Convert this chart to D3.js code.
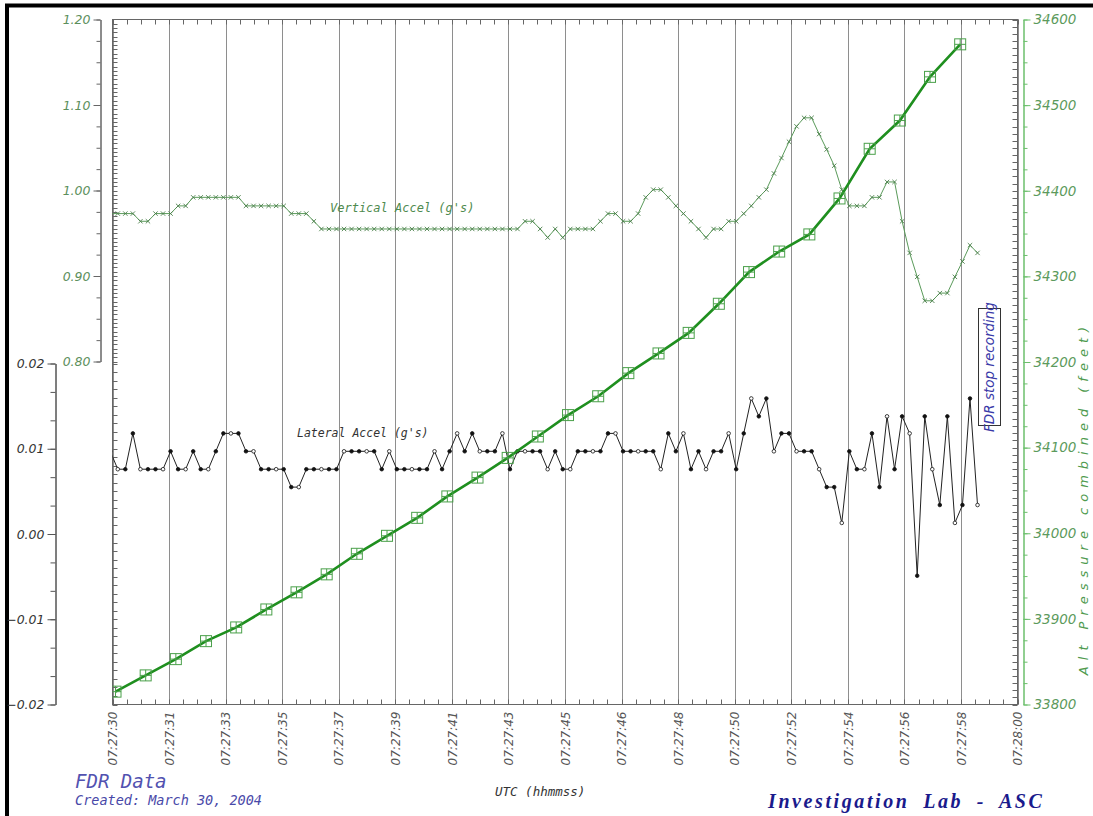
<!DOCTYPE html>
<html><head><meta charset="utf-8">
<script src="https://cdn.jsdelivr.net/npm/d3@7"></script>
<style>
html,body{margin:0;padding:0;background:#fff;}
svg{display:block;}
</style></head><body>
<svg id="chart" width="1093" height="816"></svg>
<script>
// ---------------- DATA ----------------
const timeTickLabels = ["07:27:30","07:27:31","07:27:33","07:27:35","07:27:37","07:27:39","07:27:41","07:27:43","07:27:45","07:27:46","07:27:48","07:27:50","07:27:52","07:27:54","07:27:56","07:27:58","07:28:00"];
const vertTickValues = [0.80, 0.90, 1.00, 1.10, 1.20];
const latTickValues = [-0.02, -0.01, 0.00, 0.01, 0.02];
const altTickValues = [33800, 33900, 34000, 34100, 34200, 34300, 34400, 34500, 34600];

// 4 Hz samples (seconds after 07:27:30)
const sampleStart = -0.075, sampleStep = 0.25;
const lateralAccel = [
 0.0097,
 0.0076,0.0076,0.0118,0.0076,0.0076,0.0076,0.0076,0.0097,0.0076,0.0076,
 0.0097,0.0076,0.0076,0.0097,0.0118,0.0118,0.0118,0.0097,0.0097,0.0076,
 0.0076,0.0076,0.0076,0.0055,0.0055,0.0076,0.0076,0.0076,0.0076,0.0076,
 0.0097,0.0097,0.0097,0.0097,0.0097,0.0076,0.0097,0.0076,0.0076,0.0076,
 0.0076,0.0076,0.0097,0.0076,0.0097,0.0118,0.0097,0.0118,0.0097,0.0097,
 0.0097,
 0.0118,0.0076,0.0097,0.0097,0.0097,0.0097,0.0076,0.0097,0.0076,0.0076,
 0.0097,0.0097,0.0097,0.0097,0.0118,0.0118,0.0097,0.0097,0.0097,0.0097,
 0.0097,0.0076,0.0118,0.0097,0.0118,0.0076,0.0097,0.0076,0.0097,0.0097,
 0.0118,0.0076,0.0118,0.0159,0.0138,0.0159,0.0097,0.0118,0.0118,0.0097,
 0.0097,0.0097,0.0076,0.0055,0.0055,0.0013,0.0097,0.0076,0.0076,0.0118,
 0.0055,0.0138,0.0076,0.0138,0.0118,-0.0049,0.0138,0.0076,0.0034,0.0138,
 0.0013,0.0034,0.0159,0.0034
];
const verticalAccel = [
 0.973,0.973,0.973,0.973,0.964,0.964,0.973,0.973,0.973,0.982,
 0.982,0.992,0.992,0.992,0.992,0.992,0.992,0.992,0.982,0.982,
 0.982,0.982,0.982,0.982,0.973,0.973,0.973,0.964,0.955,0.955,
 0.955,0.955,0.955,0.955,0.955,0.955,0.955,0.955,0.955,0.955,
 0.955,0.955,0.955,0.955,0.955,0.955,0.955,0.955,0.955,0.955,
 0.955,0.955,0.955,0.955,0.955,0.964,0.964,0.955,0.945,0.955,
 0.945,0.955,0.955,0.955,0.955,0.964,0.973,0.973,0.964,0.964,
 0.973,0.992,1.001,1.001,0.992,0.982,0.973,0.964,0.955,0.945,
 0.955,0.955,0.964,0.964,0.973,0.982,0.992,1.001,1.020,1.038,
 1.057,1.075,1.085,1.085,1.066,1.048,1.029,1.001,0.982,0.982,
 0.982,0.992,0.992,1.010,1.010,0.964,0.927,0.899,0.871,0.871,
 0.880,0.880,0.899,0.917,0.936,0.927
];
// 1 Hz altitude samples
const altStart = 0.1, altStep = 1;
const altPressure = [33815,33834,33853,33874,33890,33911,33931,33952,33976,33997,
 34018,34043,34065,34088,34113,34138,34160,34187,34210,34234,
 34268,34305,34329,34349,34391,34449,34482,34533,34571];

// ---------------- DRAWING ----------------
const svg = d3.select('#chart');
const P = {left:112.5, right:1017.5, top:19.5, bottom:704.5};
const x = d3.scaleLinear().domain([0, 30]).range([P.left, P.right]);
const yV = d3.scaleLinear().domain([0.8, 1.2]).range([361.5, 19.5]);
const yL = d3.scaleLinear().domain([-0.02, 0.02]).range([704.5, 363.5]);
const yA = d3.scaleLinear().domain([33800, 34600]).range([704.5, 19.5]);
const timeTicks = timeTickLabels.map((d, i) => i * 30 / (timeTickLabels.length - 1));
const FONT = "'DejaVu Sans', sans-serif";
const MONO = "'DejaVu Sans Mono', monospace";

svg.append('rect').attr('x',0).attr('y',0).attr('width',1093).attr('height',816).attr('fill','#fff');
// outer border
svg.append('rect').attr('x',7).attr('y',5.5).attr('width',1100).attr('height',830)
  .attr('fill','none').attr('stroke','#000').attr('stroke-width',4);

// gridlines
svg.append('g').selectAll('line').data(timeTicks).join('line')
  .attr('x1', d => Math.round(x(d)) + 0.5).attr('x2', d => Math.round(x(d)) + 0.5)
  .attr('y1', P.top).attr('y2', P.bottom)
  .attr('stroke', '#8e8e8e').attr('stroke-width', 1);

// frame
svg.append('rect').attr('x',P.left).attr('y',P.top).attr('width',P.right-P.left).attr('height',P.bottom-P.top)
  .attr('fill','none').attr('stroke','#666').attr('stroke-width',1);

// inner frame ticks
const ft = svg.append('g').attr('stroke','#666').attr('stroke-width',1);
const minorT = d3.range(0, 30.0001, 30/64);
ft.selectAll('.tt').data(minorT).join('line')
  .attr('x1', d => Math.round(x(d))+0.5).attr('x2', d => Math.round(x(d))+0.5).attr('y1',P.top).attr('y2',P.top+5);
ft.selectAll('.bt').data(minorT).join('line')
  .attr('x1', d => Math.round(x(d))+0.5).attr('x2', d => Math.round(x(d))+0.5).attr('y1',P.bottom).attr('y2',P.bottom-5);
const leftUpper = d3.range(0.8, 1.2001, 0.005);
ft.selectAll('.lu').data(leftUpper).join('line')
  .attr('x1',P.left).attr('x2',P.left+5).attr('y1', d => Math.round(yV(d))+0.5).attr('y2', d => Math.round(yV(d))+0.5);
const leftLower = d3.range(-0.02, 0.0201, 0.001);
ft.selectAll('.ll').data(leftLower).join('line')
  .attr('x1',P.left).attr('x2',P.left+5).attr('y1', d => Math.round(yL(d))+0.5).attr('y2', d => Math.round(yL(d))+0.5);
const rightT = d3.range(33800, 34600.01, 100/12);
ft.selectAll('.rt').data(rightT).join('line')
  .attr('x1',P.right).attr('x2',P.right-5).attr('y1', d => Math.round(yA(d))+0.5).attr('y2', d => Math.round(yA(d))+0.5);

// x axis labels
const gx = svg.append('g').attr('transform', `translate(0,${P.bottom})`)
  .call(d3.axisBottom(x).tickValues(timeTicks).tickFormat((d,i) => timeTickLabels[i]).tickSize(0).tickSizeOuter(0));
gx.select('.domain').remove();
gx.selectAll('text').attr('transform','rotate(-90)').attr('x',-7).attr('y',0).attr('dy','0.35em')
  .style('text-anchor','end').style('font-family',FONT).style('font-style','italic').style('font-size','12px').attr('fill','#555');

function styleAxis(g, color, textColor, size) {
  g.select('.domain').attr('stroke', color);
  g.selectAll('.tick line').attr('stroke', color);
  g.selectAll('text').style('font-family', FONT).style('font-style','italic').style('font-size', size).attr('fill', textColor);
}
// vertical accel axis
const gV = svg.append('g').attr('transform','translate(100.5,0)')
  .call(d3.axisLeft(yV).tickValues(vertTickValues).tickFormat(d3.format('.2f')).tickSize(7).tickSizeOuter(0).tickPadding(3));
styleAxis(gV, '#666', '#5c8f5c', '12.5px');
const gV2 = svg.append('g').attr('transform','translate(100.5,0)')
  .call(d3.axisLeft(yV).tickValues(d3.range(0.8, 1.2001, 0.025)).tickFormat('').tickSize(4).tickSizeOuter(0));
styleAxis(gV2, '#666', '#5c8f5c', '12px');

// lateral accel axis
const gL = svg.append('g').attr('transform','translate(55.5,0)')
  .call(d3.axisLeft(yL).tickValues(latTickValues).tickFormat(d3.format('.2f')).tickSize(8).tickSizeOuter(0).tickPadding(3));
styleAxis(gL, '#555', '#333', '12.5px');
const gL2 = svg.append('g').attr('transform','translate(55.5,0)')
  .call(d3.axisLeft(yL).tickValues(d3.range(-0.02, 0.0201, 0.01/3)).tickFormat('').tickSize(5).tickSizeOuter(0));
styleAxis(gL2, '#555', '#333', '12px');

// altitude axis
const gA = svg.append('g').attr('transform','translate(1023.5,0)')
  .call(d3.axisRight(yA).tickValues(altTickValues).tickFormat(d3.format('d')).tickSize(7).tickSizeOuter(0).tickPadding(3));
styleAxis(gA, '#6cbf6c', '#5c9a5c', '13.5px');
const gA2 = svg.append('g').attr('transform','translate(1023.5,0)')
  .call(d3.axisRight(yA).tickValues(d3.range(33800, 34600.1, 25)).tickFormat('').tickSize(4).tickSizeOuter(0));
styleAxis(gA2, '#6cbf6c', '#5c9a5c', '12px');

// clip
svg.append('clipPath').attr('id','clip').append('rect')
  .attr('x',P.left).attr('y',P.top).attr('width',P.right-P.left).attr('height',P.bottom-P.top);
const plot = svg.append('g').attr('clip-path','url(#clip)');

const tS = i => sampleStart + i * sampleStep;
// vertical accel
plot.append('path').datum(verticalAccel)
  .attr('d', d3.line().x((d,i) => x(tS(i))).y(d => yV(d)))
  .attr('fill','none').attr('stroke','#5a9a5a').attr('stroke-width',1);
plot.append('g').selectAll('path').data(verticalAccel).join('path')
  .attr('d', (d,i) => { const cx = x(tS(i)), cy = yV(d), r = 2.2;
     return `M${cx-r},${cy-r}L${cx+r},${cy+r}M${cx-r},${cy+r}L${cx+r},${cy-r}`; })
  .attr('stroke','#4a7f4a').attr('stroke-width',0.9);

// lateral accel
plot.append('path').datum(lateralAccel)
  .attr('d', d3.line().x((d,i) => x(tS(i))).y(d => yL(d)))
  .attr('fill','none').attr('stroke','#222').attr('stroke-width',1);
plot.append('g').selectAll('circle').data(lateralAccel).join('circle')
  .attr('cx', (d,i) => x(tS(i))).attr('cy', d => yL(d)).attr('r', 1.8)
  .attr('fill', (d,i) => i % 3 === 1 ? '#fff' : '#111').attr('stroke','#111').attr('stroke-width',0.8);

// altitude
const tA = i => altStart + i * altStep;
plot.append('path').datum(altPressure)
  .attr('d', d3.line().x((d,i) => x(tA(i))).y(d => yA(d)))
  .attr('fill','none').attr('stroke','#1f8f1f').attr('stroke-width',2.6);
const sq = plot.append('g').selectAll('g').data(altPressure).join('g')
  .attr('transform', (d,i) => `translate(${x(tA(i))},${yA(d)})`);
sq.append('rect').attr('x',-5.5).attr('y',-5.5).attr('width',11).attr('height',11)
  .attr('fill','none').attr('stroke','#4aa04a').attr('stroke-width',1);
sq.append('path').attr('d','M-5.5,0H5.5M0,-5.5V5.5').attr('stroke','#4aa04a').attr('stroke-width',1);

// series labels
svg.append('text').attr('x',330).attr('y',212).text("Vertical Accel (g's)")
  .style('font-family',MONO).style('font-style','italic').style('font-size','12px').attr('fill','#4e8a4e');
svg.append('text').attr('x',297).attr('y',437).text("Lateral Accel (g's)")
  .style('font-family',MONO).style('font-style','italic').style('font-size','11.5px').attr('fill','#333');

// FDR stop recording box
svg.append('rect').attr('x',978.5).attr('y',308.5).attr('width',22).attr('height',117)
  .attr('fill','#fff').attr('stroke','#333').attr('stroke-width',1);
svg.append('text').attr('transform','translate(989.5,367) rotate(-90)').attr('dy','0.35em')
  .style('text-anchor','middle').text('FDR stop recording')
  .style('font-family',FONT).style('font-style','italic').style('font-size','13.5px').attr('fill','#3a3aa8');

// right axis title
svg.append('text').attr('transform','translate(1083,498) rotate(-90)').attr('dy','0.35em')
  .style('text-anchor','middle').text('Alt Pressure combined (feet)')
  .style('font-family',FONT).style('font-style','italic').style('font-size','13px').style('letter-spacing','6px')
  .attr('fill','#4e9a4e');

// bottom texts
svg.append('text').attr('x',495).attr('y',796).text('UTC (hhmmss)')
  .style('font-family',MONO).style('font-style','italic').style('font-size','12.5px').attr('fill','#333');
svg.append('text').attr('x',75).attr('y',788).text('FDR Data')
  .style('font-family',MONO).style('font-style','italic').style('font-size','19px').attr('fill','#5252b0');
svg.append('text').attr('x',75).attr('y',805).text('Created: March 30, 2004')
  .style('font-family',MONO).style('font-style','italic').style('font-size','13.5px').attr('fill','#4848a8');
svg.append('text').attr('x',768).attr('y',808).text('Investigation Lab - ASC')
  .style('font-family',"'Liberation Serif', serif").style('font-style','italic').style('font-weight','bold')
  .style('font-size','20px').style('letter-spacing','2.6px').style('word-spacing','6px').attr('fill','#1a1a8c');
</script>
</body></html>
